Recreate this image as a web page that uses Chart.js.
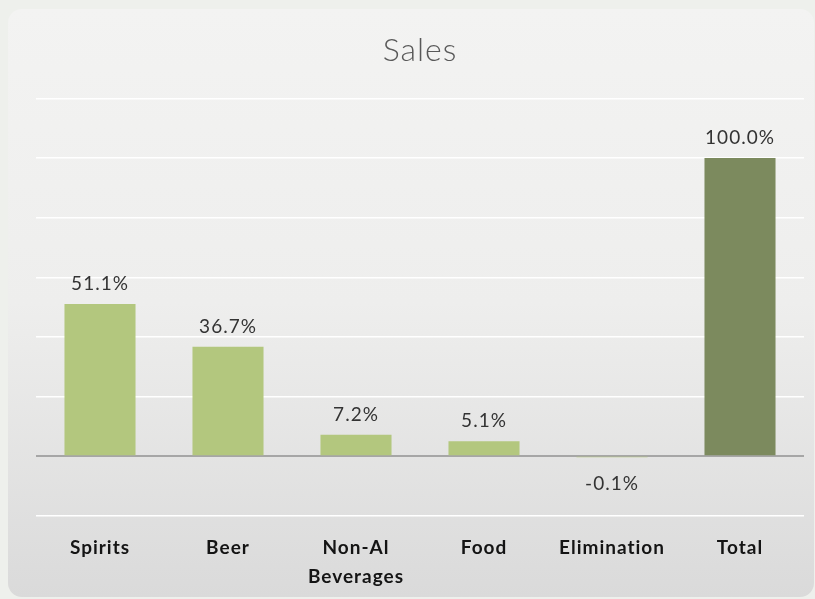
<!DOCTYPE html>
<html>
<head>
<meta charset="utf-8">
<script src="https://cdn.jsdelivr.net/npm/chart.js@4"></script>
<style>
  html, body { margin: 0; padding: 0; background: #eef0ec; }
  #panel {
    position: absolute; left: 8px; top: 9px; width: 806px; height: 588px;
    border-radius: 14px;
    background: linear-gradient(#f3f3f2 0%, #eeeeed 50%, #dadada 100%);
  }
  #wrap { position: absolute; left: 0; top: 0; width: 815px; height: 599px; }
</style>
</head>
<body>
<div id="panel"></div>
<div id="wrap"><canvas id="chart"></canvas></div>
<script>
// Sales mix, % of total
const categories = ["Spirits", "Beer", ["Non-Al", "Beverages"], "Food", "Elimination", "Total"];
const values = [51.1, 36.7, 7.2, 5.1, -0.1, 100.0];
const barColors = ["#b3c77e", "#b3c77e", "#b3c77e", "#b3c77e", "#b3c77e", "#7c8a5e"];

// a bit of letter spacing so Lato looks closer to the wider original text
const spacing = {
  id: "spacing",
  beforeDraw(chart) { chart.ctx.letterSpacing = "1px"; },
  afterDraw(chart) { chart.ctx.letterSpacing = "0px"; }
};

// value labels above (or below) each bar
const valueLabels = {
  id: "valueLabels",
  afterDatasetsDraw(chart) {
    const ctx = chart.ctx;
    const meta = chart.getDatasetMeta(0);
    const zero = chart.scales.y.getPixelForValue(0);
    ctx.save();
    ctx.font = "19px Lato";
    ctx.letterSpacing = "1px";
    ctx.fillStyle = "#333333";
    ctx.textAlign = "center";
    ctx.textBaseline = "middle";
    meta.data.forEach((bar, i) => {
      let v = values[i];
      let y = v >= 0 ? bar.y - 20 : zero + 28;
      ctx.fillText(v.toFixed(1) + "%", bar.x, y);
    });
    ctx.restore();
  }
};

let ctx = document.getElementById("chart").getContext("2d");

let chart = new Chart(ctx, {
  type: "bar",
  data: {
    labels: categories,
    datasets: [{
      data: values,
      backgroundColor: barColors,
      barPercentage: 0.555,
      categoryPercentage: 1
    }]
  },
  options: {
    responsive: true,
    maintainAspectRatio: false,
    animation: false,
    layout: { padding: { left: 36, right: 11, top: 0, bottom: 0 } },
    plugins: {
      legend: { display: false },
      tooltip: { enabled: false },
      title: {
        display: true,
        text: "Sales",
        color: "#595959",
        font: { family: "Lato", size: 32, weight: "300" },
        padding: { top: 31, bottom: 29 }
      }
    },
    scales: {
      x: {
        grid: { display: false, drawTicks: false },
        border: { display: false },
        afterFit: s => { s.height = 83; },
        ticks: {
          color: "#141414",
          padding: 18,
          maxRotation: 0,
          autoSkip: false,
          font: { family: "Lato", size: 19, weight: "bold", lineHeight: 1.5 }
        }
      },
      y: {
        min: -20,
        max: 120,
        ticks: { display: false, stepSize: 20 },
        border: { display: false },
        grid: {
          drawTicks: false,
          color: c => c.tick && c.tick.value === 0 ? "#a6a6a6" : "#ffffff",
          lineWidth: c => c.tick && c.tick.value === 0 ? 2 : 1.5
        }
      }
    }
  },
  plugins: [spacing, valueLabels]
});
</script>
</body>
</html>
